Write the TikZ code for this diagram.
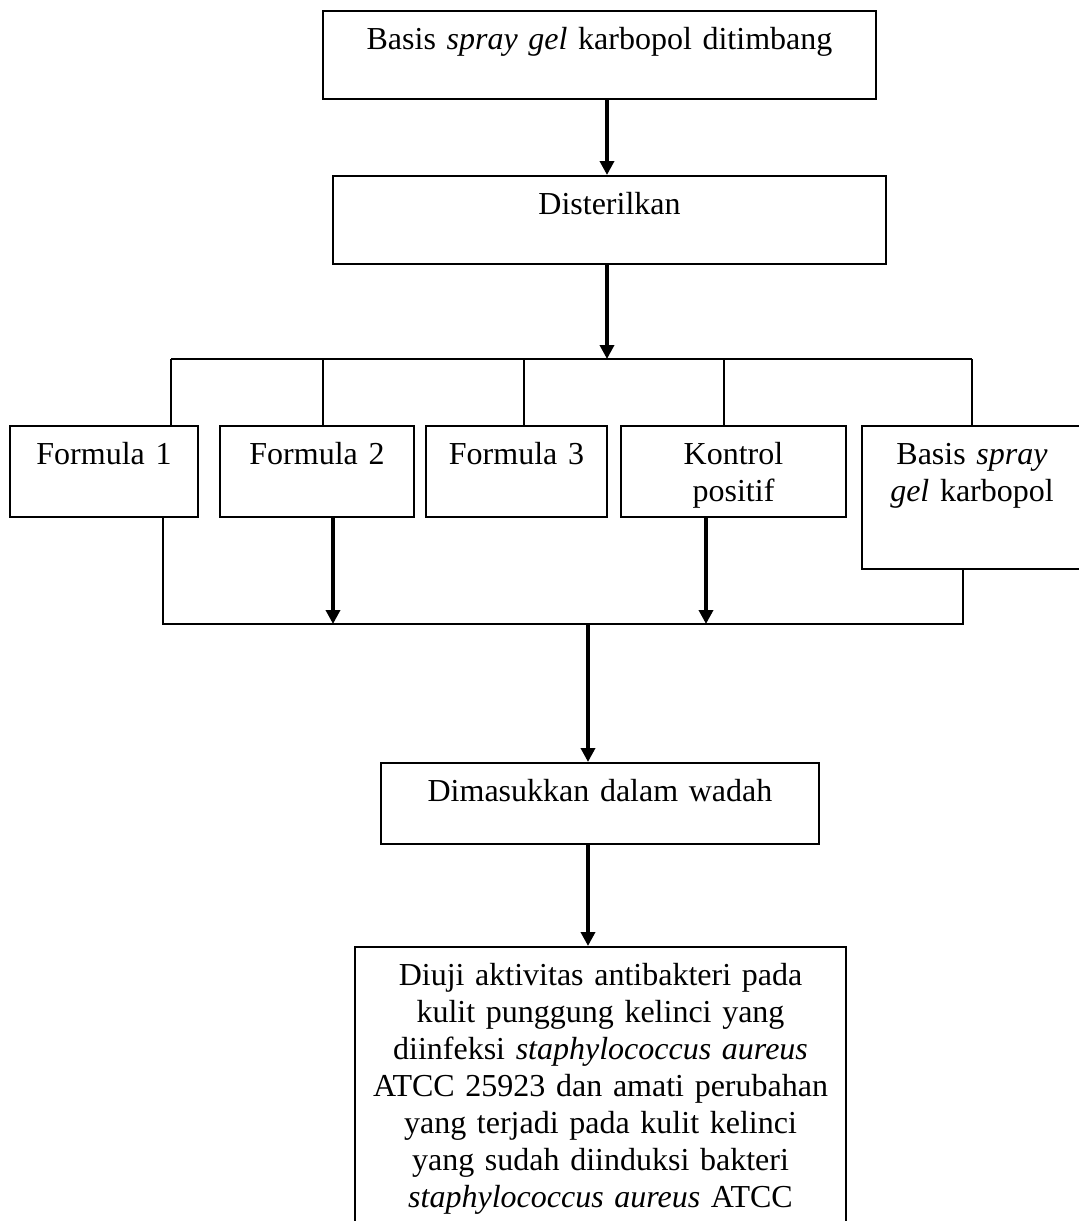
\documentclass[tikz,border=0pt]{standalone}
\usepackage{fontspec}
\setmainfont{Liberation Serif}
\usetikzlibrary{arrows.meta}

\begin{document}
\begin{tikzpicture}[x=0.5pt, y=-0.5pt,
		box/.style={draw, line width=1pt, anchor=north, align=center, inner xsep=0pt, inner ysep=0pt, text height=19pt, font=\fontsize{16}{18.5}\selectfont},
		flow/.style={line width=2pt, -{Triangle[width=7pt, length=7pt]}},
		joint/.style={line width=0.75pt}]
			%%%%% START %%%%%
			
			\useasboundingbox (0, 0) rectangle (1078, 1221);
			
			\coordinate (split) at (607, 359);
			\coordinate (merge) at (588, 624);
			
			\node[box, text width=276.5pt, text depth=25pt] (weigh) at (599.5, 10) {Basis \textit{spray gel} karbopol ditimbang};
			\node[box, text width=276.5pt, text depth=25pt] (steril) at (609.5, 175) {Disterilkan};
			
			\node[box, text width=94pt, text depth=26.5pt] (f1) at (104, 425) {Formula 1};
			\node[box, text width=97pt, text depth=26.5pt] (f2) at (317, 425) {Formula 2};
			\node[box, text width=90.5pt, text depth=26.5pt] (f3) at (516.5, 425) {Formula 3};
			\node[box, text width=112.5pt, text depth=26.5pt] (kontrol) at (733.5, 425) {Kontrol\\positif};
			\node[box, text width=110pt, text depth=52.5pt] (basis) at (972, 425) {Basis \textit{spray}\\\textit{gel} karbopol};
			
			\node[box, text width=219pt, text depth=21.5pt] (wadah) at (600, 762) {Dimasukkan dalam wadah};
			\node[box, text width=245.5pt, text depth=130pt] (uji) at (600.5, 946) {Diuji aktivitas antibakteri pada\\kulit punggung kelinci yang\\diinfeksi \textit{staphylococcus aureus}\\ATCC 25923 dan amati perubahan\\yang terjadi pada kulit kelinci\\yang sudah diinduksi bakteri\\\textit{staphylococcus aureus} ATCC};
			
			\draw[flow] (weigh.south -| split) -- (steril.north -| split);
			\draw[flow] (steril.south -| split) -- (split);
			
			\coordinate (b1) at (171, 359);
			\coordinate (b2) at (323, 359);
			\coordinate (b3) at (524, 359);
			\coordinate (b4) at (724, 359);
			\coordinate (b5) at (972, 359);
			\draw[joint] (b1) -- (b5);
			\draw[joint] (b1) -- (b1 |- f1.north);
			\draw[joint] (b2) -- (b2 |- f2.north);
			\draw[joint] (b3) -- (b3 |- f3.north);
			\draw[joint] (b4) -- (b4 |- kontrol.north);
			\draw[joint] (b5) -- (b5 |- basis.north);
			
			\coordinate (m1) at (163, 624);
			\coordinate (m2) at (333, 624);
			\coordinate (m4) at (706, 624);
			\coordinate (m5) at (963, 624);
			\draw[joint] (f1.south -| m1) -- (m1) -- (m5) -- (basis.south -| m5);
			\draw[flow] (f2.south -| m2) -- (m2);
			\draw[flow] (kontrol.south -| m4) -- (m4);
			
			\draw[flow] (merge) -- (wadah.north -| merge);
			\draw[flow] (wadah.south -| merge) -- (uji.north -| merge);
			
			%%%%% END %%%%%
		\end{tikzpicture}
\end{document}
